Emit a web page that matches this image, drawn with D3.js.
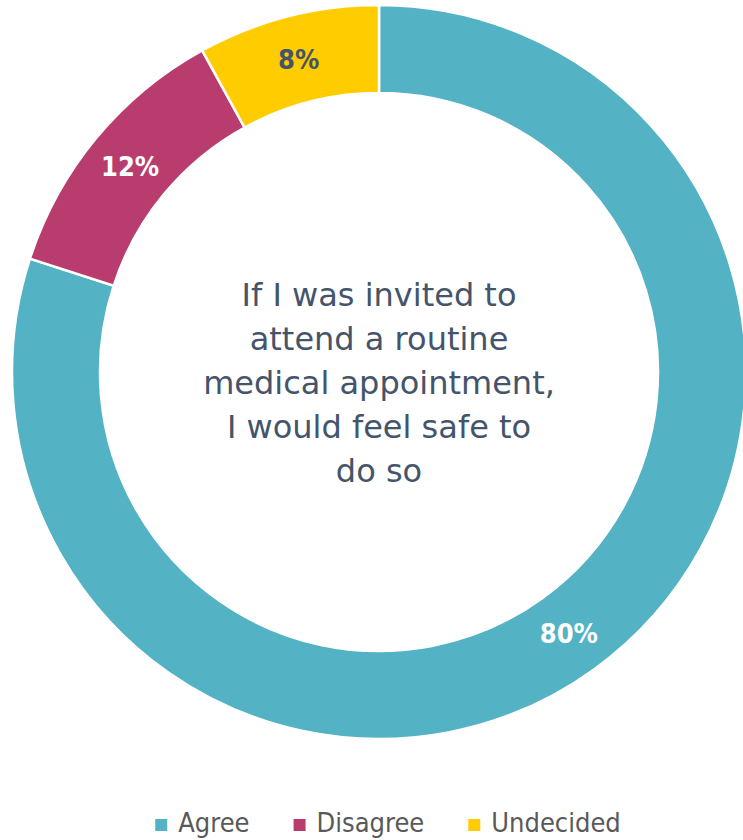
<!DOCTYPE html>
<html>
<head>
<meta charset="utf-8">
<style>
  body { margin: 0; background: #fff; }
  svg { display: block; }
  .slice-label { font-family: "DejaVu Sans Condensed", "DejaVu Sans", sans-serif; font-weight: bold; font-size: 27px; }
  .center-text { font-family: "DejaVu Sans", sans-serif; font-size: 32px; fill: #44546A; }
  .legend-text { font-family: "DejaVu Sans Condensed", "DejaVu Sans", sans-serif; font-size: 27px; fill: #595959; }
</style>
</head>
<body>
<div id="chart"></div>
<script src="https://d3js.org/d3.v7.min.js"></script>
<script>
  // Data
  const categories = ['Agree', 'Disagree', 'Undecided'];
  const values = [80, 12, 8];
  const colors = ['#53B2C3', '#B93C6F', '#FFCC00'];
  const labelColors = ['#ffffff', '#ffffff', '#44546A'];
  const centerLines = [
    'If I was invited to',
    'attend a routine',
    'medical appointment,',
    'I would feel safe to',
    'do so'
  ];

  const width = 743;
  const height = 840;
  const cx = 379, cy = 372;
  const outerR = 367, innerR = 279;

  const svg = d3.select('#chart')
    .append('svg')
    .attr('width', width)
    .attr('height', height);

  const g = svg.append('g')
    .attr('transform', `translate(${cx}, ${cy})`);

  const pieData = categories.map((c, i) => ({ name: c, value: values[i], idx: i }));

  const pie = d3.pie()
    .sort(null)
    .value(d => d.value);

  const arc = d3.arc()
    .innerRadius(innerR)
    .outerRadius(outerR);

  const arcs = pie(pieData);

  g.selectAll('path')
    .data(arcs)
    .enter()
    .append('path')
    .attr('d', arc)
    .attr('fill', d => colors[d.data.idx])
    .attr('stroke', '#fff')
    .attr('stroke-width', 2.5);

  // percentage labels
  g.selectAll('.slice-label')
    .data(arcs)
    .enter()
    .append('text')
    .attr('class', 'slice-label')
    .attr('transform', d => `translate(${arc.centroid(d)})`)
    .attr('text-anchor', 'middle')
    .attr('dy', '0.36em')
    .attr('fill', d => labelColors[d.data.idx])
    .text(d => d.data.value + '%');

  // text in the hole
  const lineHeight = 44;
  const firstBaseline = 306 - cy;
  g.selectAll('.center-text')
    .data(centerLines)
    .enter()
    .append('text')
    .attr('class', 'center-text')
    .attr('text-anchor', 'middle')
    .attr('x', 0)
    .attr('y', (d, i) => firstBaseline + i * lineHeight)
    .text(d => d);

  // legend (kept a bit higher so descenders are not cut at the bottom edge)
  const legend = svg.append('g');
  const box = 12, boxGap = 11, itemGap = 44;
  const baseY = 832;
  let xPos = 0;
  categories.forEach((c, i) => {
    const item = legend.append('g').attr('transform', `translate(${xPos}, 0)`);
    item.append('rect')
      .attr('x', 0)
      .attr('y', baseY - 13)
      .attr('width', box)
      .attr('height', box)
      .attr('fill', colors[i]);
    const t = item.append('text')
      .attr('class', 'legend-text')
      .attr('x', box + boxGap)
      .attr('y', baseY)
      .text(c);
    xPos += box + boxGap + t.node().getComputedTextLength() + itemGap;
  });
  const legendWidth = xPos - itemGap;
  legend.attr('transform', `translate(${388 - legendWidth / 2}, 0)`);
</script>
</body>
</html>
